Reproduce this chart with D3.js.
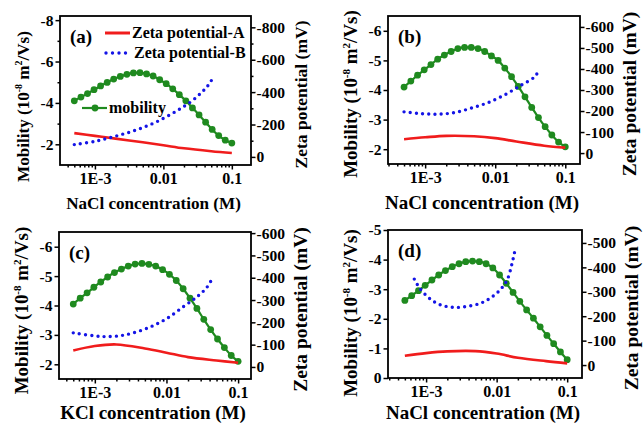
<!DOCTYPE html>
<html>
<head>
<meta charset="utf-8">
<script src="https://cdn.jsdelivr.net/npm/d3@7"></script>
<style>
body { margin: 0; background: #fff; }
text { font-family: "Liberation Serif", "Times New Roman", serif; font-weight: bold; }
</style>
</head>
<body>
<svg id="chart" width="643" height="425"></svg>
<script>
// concentration (M) of the mobility points, same for all four panels
var mobConc = [5.0e-4, 6.25e-4, 7.8e-4, 9.7e-4, 1.21e-3, 1.51e-3, 1.88e-3, 2.35e-3, 2.93e-3,
               3.65e-3, 4.55e-3, 5.68e-3, 7.08e-3, 8.83e-3, 0.0110, 0.0137, 0.0171, 0.0213,
               0.0266, 0.0332, 0.0414, 0.0516, 0.0643, 0.0802, 0.1];

// mobility (10^-8 m2/Vs)
var mobA = [-4.10, -4.28, -4.45, -4.64, -4.82, -4.99, -5.15, -5.28, -5.38, -5.45, -5.46, -5.40, -5.30,
            -5.12, -4.93, -4.68, -4.40, -4.10, -3.76, -3.42, -3.07, -2.72, -2.42, -2.20, -2.06];
var mobB = [-4.10, -4.30, -4.50, -4.68, -4.86, -5.04, -5.18, -5.30, -5.40, -5.44, -5.44, -5.40, -5.30,
            -5.15, -5.00, -4.74, -4.45, -4.12, -3.77, -3.41, -3.07, -2.76, -2.48, -2.24, -2.08];
var mobC = [-4.05, -4.25, -4.43, -4.62, -4.80, -4.97, -5.12, -5.24, -5.34, -5.41, -5.43, -5.40, -5.34,
            -5.22, -5.06, -4.85, -4.57, -4.25, -3.90, -3.53, -3.18, -2.86, -2.57, -2.30, -2.10];
var mobD = [-2.62, -2.78, -2.95, -3.13, -3.31, -3.48, -3.63, -3.76, -3.86, -3.93, -3.95, -3.93, -3.86,
            -3.72, -3.48, -3.20, -2.89, -2.59, -2.30, -2.02, -1.73, -1.44, -1.16, -0.88, -0.62];

// zeta potential-A (mV), red line
var redConc = [5e-4, 1e-3, 2e-3, 5e-3, 0.01, 0.02, 0.05, 0.1];
var redA = [-147, -130, -113, -90, -72, -53, -35, -24];
var redB = [-66, -75, -82, -80, -71, -55, -35, -26];
var redC = [-74, -94, -101, -83, -64, -44, -29, -19];
var redD = [-38, -49, -56, -57, -47, -30, -16, -7];

// zeta potential-B (mV), blue dots
var blueConcA = [5.0e-4, 1.0e-3, 2.0e-3, 4.0e-3, 7.9e-3, 0.0158, 0.0251, 0.0355, 0.0447, 0.0537];
var blueA = [-76, -96, -128, -166, -216, -285, -340, -395, -440, -492];
var blueConcB = [5.0e-4, 8.5e-4, 1.48e-3, 2.57e-3, 4.47e-3, 7.76e-3, 0.0135, 0.0234, 0.0363, 0.0427];
var blueB = [-196, -188, -185, -192, -213, -239, -276, -323, -362, -398];
var blueConcC = [5.0e-4, 9.5e-4, 1.45e-3, 2.24e-3, 3.39e-3, 5.89e-3, 0.01, 0.017, 0.0263, 0.0363, 0.0447];
var blueC = [-153, -140, -136, -140, -152, -179, -216, -269, -313, -355, -403];
var blueConcD = [6.8e-4, 8.1e-4, 1.15e-3, 1.58e-3, 2.45e-3, 3.8e-3, 5.89e-3, 8.13e-3, 0.0112, 0.0141, 0.0166, 0.0186];
var blueD = [-352, -315, -270, -247, -236, -240, -253, -274, -308, -349, -418, -484];

// tick labels
var xTicks = [1e-3, 0.01, 0.1];
var xTickLabels = ["1E-3", "0.01", "0.1"];

var green = "#1f8a1f", red = "#f01c1c", blue = "#1414e6";

var panels = [
  {tag: "(a)", salt: "NaCl", x0: 60, x1: 251, y0: 16, y1: 165, xd: [-3.51, -0.72],
   md: [-1, -8.2], mt: [-2, -4, -6, -8], mm: [-3, -5, -7],
   zd: [50, -870], zt: [0, -200, -400, -600, -800], zm: [-100, -300, -500, -700],
   mob: mobA, red: redA, bc: blueConcA, blue: blueA, s: 0.9, xl: 44, lc: 16},
  {tag: "(b)", salt: "NaCl", x0: 388, x1: 580, y0: 16, y1: 164, xd: [-3.53, -0.79],
   md: [-1.5, -6.5], mt: [-2, -3, -4, -5, -6], mm: [],
   zd: [52, -652], zt: [0, -100, -200, -300, -400, -500, -600], zm: [],
   mob: mobB, red: redB, bc: blueConcB, blue: blueB, s: 1, xl: 45, lc: 4},
  {tag: "(c)", salt: "KCl", x0: 59, x1: 251, y0: 232, y1: 379, xd: [-3.50, -0.82],
   md: [-1.5, -6.5], mt: [-2, -3, -4, -5, -6], mm: [],
   zd: [54, -605], zt: [0, -100, -200, -300, -400, -500, -600], zm: [],
   mob: mobC, red: redC, bc: blueConcC, blue: blueC, s: 1, xl: 40, lc: 5},
  {tag: "(d)", salt: "NaCl", x0: 388, x1: 582, y0: 230, y1: 378, xd: [-3.54, -0.79],
   md: [0, -5], mt: [0, -1, -2, -3, -4, -5], mm: [],
   zd: [53, -553], zt: [0, -100, -200, -300, -400, -500], zm: [],
   mob: mobD, red: redD, bc: blueConcD, blue: blueD, s: 1, xl: 41, lc: 9}
];

var svg = d3.select("#chart");

panels.forEach(function(p) {
  var x = d3.scaleLog().domain([Math.pow(10, p.xd[0]), Math.pow(10, p.xd[1])]).range([p.x0, p.x1]);
  var ym = d3.scaleLinear().domain(p.md).range([p.y1, p.y0]);
  var yz = d3.scaleLinear().domain(p.zd).range([p.y1, p.y0]);
  var g = svg.append("g");

  // axes
  var minorX = x.ticks().filter(function(d) { return xTicks.indexOf(d) < 0; });
  g.append("g").attr("transform", "translate(0," + p.y1 + ")")
    .call(d3.axisBottom(x).tickValues(minorX).tickSize(2.5).tickFormat(""));
  g.append("g").attr("transform", "translate(0," + p.y1 + ")")
    .call(d3.axisBottom(x).tickValues(xTicks).tickSize(4.5).tickPadding(3)
      .tickFormat(function(d, i) { return xTickLabels[i]; }))
    .selectAll("text").style("font-size", "16px");

  g.append("g").attr("transform", "translate(" + p.x0 + ",0)")
    .call(d3.axisLeft(ym).tickValues(p.mm).tickSize(2.5).tickFormat(""));
  g.append("g").attr("transform", "translate(" + p.x0 + ",0)")
    .call(d3.axisLeft(ym).tickValues(p.mt).tickSize(4.5).tickPadding(2)
      .tickFormat(function(d) { return String(d); }))
    .selectAll("text").style("font-size", "15.5px");

  g.append("g").attr("transform", "translate(" + p.x1 + ",0)")
    .call(d3.axisRight(yz).tickValues(p.zm).tickSize(2.5).tickFormat(""));
  g.append("g").attr("transform", "translate(" + p.x1 + ",0)")
    .call(d3.axisRight(yz).tickValues(p.zt).tickSize(4.5).tickPadding(1)
      .tickFormat(function(d) { return String(d); }))
    .selectAll("text").style("font-size", "15.5px");

  g.selectAll(".domain").remove();
  g.selectAll(".tick line").attr("stroke", "#000").attr("stroke-width", 1.5);
  g.selectAll(".tick text").attr("fill", "#000").style("font-family", "Liberation Serif").style("font-weight", "bold");

  g.append("rect").attr("x", p.x0).attr("y", p.y0)
    .attr("width", p.x1 - p.x0).attr("height", p.y1 - p.y0)
    .attr("fill", "none").attr("stroke", "#000").attr("stroke-width", 1.8);

  // curves
  var mobPts = mobConc.map(function(c, i) { return [x(c), ym(p.mob[i])]; });
  var redPts = redConc.map(function(c, i) { return [x(c), yz(p.red[i])]; });
  var bluePts = p.bc.map(function(c, i) { return [x(c), yz(p.blue[i])]; });
  var line = d3.line().curve(d3.curveMonotoneX);
  var smooth = d3.line().curve(d3.curveCatmullRom.alpha(0.5));

  g.append("path").attr("d", line(mobPts)).attr("fill", "none")
    .attr("stroke", green).attr("stroke-width", 2.2);
  g.selectAll("circle.m").data(mobPts).enter().append("circle")
    .attr("cx", function(d) { return d[0]; }).attr("cy", function(d) { return d[1]; })
    .attr("r", 3.4).attr("fill", green);
  g.append("path").attr("d", smooth(redPts)).attr("fill", "none")
    .attr("stroke", red).attr("stroke-width", 2.6);
  g.append("path").attr("d", smooth(bluePts)).attr("fill", "none")
    .attr("stroke", blue).attr("stroke-width", 3.4)
    .attr("stroke-linecap", "round").attr("stroke-dasharray", "0,6.2");

  // labels
  g.append("text").attr("x", p.x0 + 10).attr("y", p.y0 + 27)
    .style("font-size", "19px").text(p.tag);

  g.append("text").attr("x", (p.x0 + p.x1) / 2 - 2).attr("y", p.y1 + p.xl)
    .attr("text-anchor", "middle").style("font-size", (19 * p.s) + "px")
    .text(p.salt + " concentration (M)");

  var lt = g.append("text")
    .attr("transform", "translate(" + (p.x0 - 31) + "," + ((p.y0 + p.y1) / 2 + p.lc) + ") rotate(-90)")
    .attr("text-anchor", "middle").style("font-size", (19 * p.s) + "px");
  lt.append("tspan").text("Mobility (10");
  lt.append("tspan").attr("dy", -7).style("font-size", (11 * p.s) + "px").text("-8");
  lt.append("tspan").attr("dy", 7).text(" m");
  lt.append("tspan").attr("dy", -7).style("font-size", (11 * p.s) + "px").text("2");
  lt.append("tspan").attr("dy", 7).text("/Vs)");

  g.append("text")
    .attr("transform", "translate(" + (p.x1 + 56) + "," + ((p.y0 + p.y1) / 2 + 4) + ") rotate(-90)")
    .attr("text-anchor", "middle").style("font-size", (19.5 * p.s) + "px")
    .text("Zeta potential (mV)");
});

// legend, panel (a) only
var lg = svg.append("g");
lg.append("line").attr("x1", 105).attr("x2", 130).attr("y1", 33).attr("y2", 33)
  .attr("stroke", red).attr("stroke-width", 3);
lg.append("text").attr("x", 132).attr("y", 38).style("font-size", "16px").text("Zeta potential-A");
lg.append("line").attr("x1", 106).attr("x2", 128).attr("y1", 53).attr("y2", 53)
  .attr("stroke", blue).attr("stroke-width", 3.4)
  .attr("stroke-linecap", "round").attr("stroke-dasharray", "0,6.5");
lg.append("text").attr("x", 134).attr("y", 58).style("font-size", "16px").text("Zeta potential-B");
lg.append("line").attr("x1", 82).attr("x2", 107).attr("y1", 108).attr("y2", 108)
  .attr("stroke", green).attr("stroke-width", 2.2);
lg.append("circle").attr("cx", 95).attr("cy", 108).attr("r", 3.4).attr("fill", green);
lg.append("text").attr("x", 109).attr("y", 113).style("font-size", "16px").text("mobility");
</script>
</body>
</html>
